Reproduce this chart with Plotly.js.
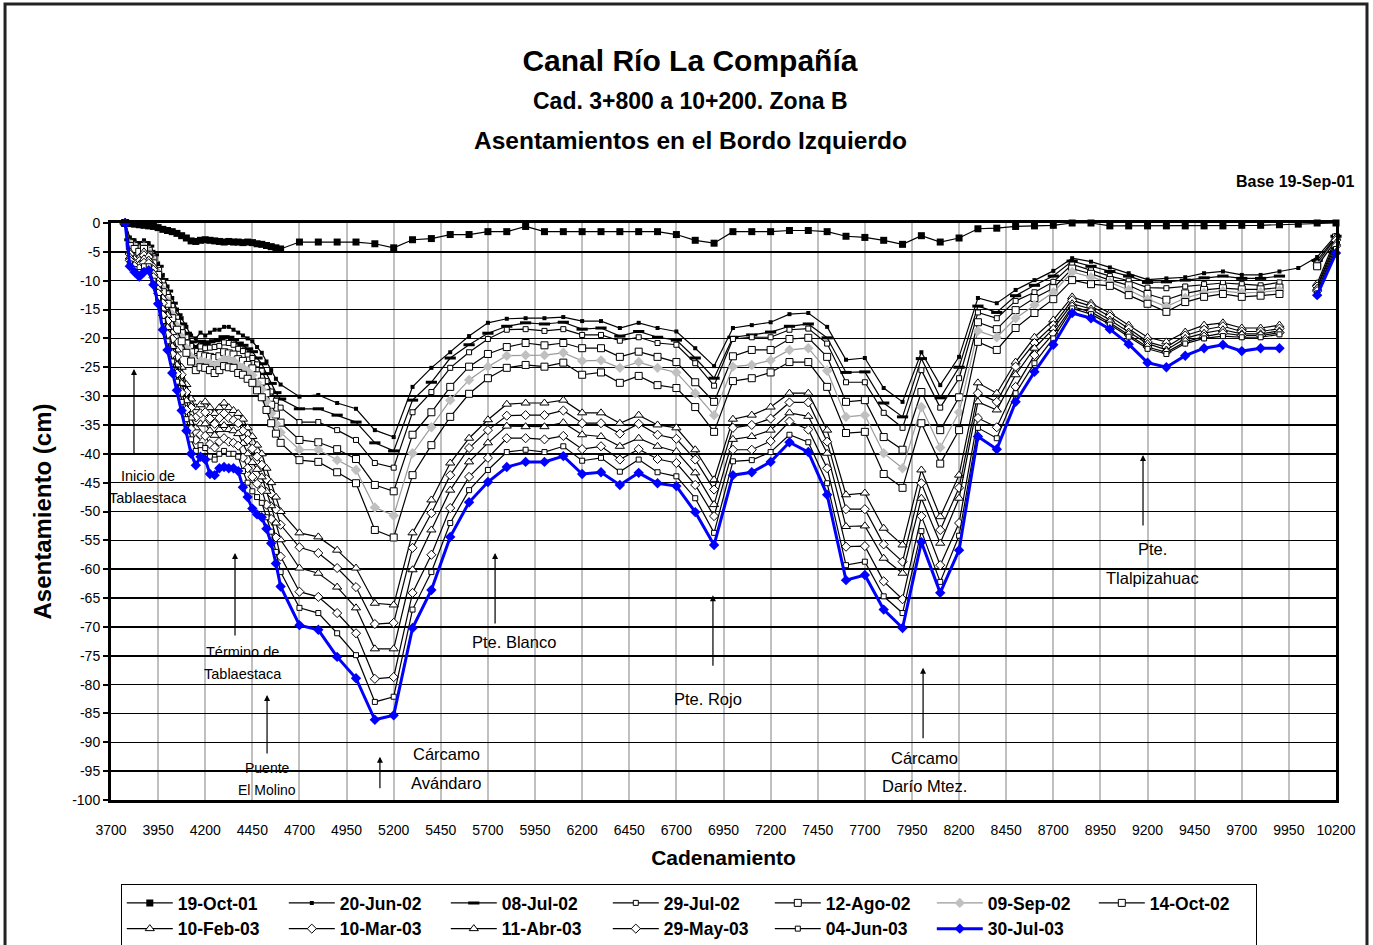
<!DOCTYPE html>
<html><head><meta charset="utf-8">
<script src="https://cdn.plot.ly/plotly-3.0.1.min.js"></script>
<style>html,body{margin:0;padding:0;background:#fff;}#chart{width:1373px;height:945px;}</style>
</head><body><div id="chart"></div>
<script>
// ---------- DATA ----------
const cadenamiento = [3775,3800,3825,3850,3875,3900,3925,3950,3975,4000,4025,4050,4075,4100,4125,4150,4175,4200,4225,4250,4275,4300,4325,4350,4375,4400,4425,4450,4475,4500,4525,4550,4575,4600,
 4700,4800,4900,5000,5100,5200,5300,5400,5500,5600,5700,5800,5900,6000,6100,6200,6300,6400,6500,6600,6700,6800,6900,7000,7100,7200,7300,7400,7500,7600,7700,7800,7900,8000,8100,8200,8300,8400,8500,8600,8700,8800,8900,9000,9100,9200,9300,9400,9500,9600,9700,9800,9900,
 10000,10100,10200];

const s19Oct01 = [0,-0.1,-0.2,-0.3,-0.4,-0.5,-0.6,-0.8,-1.1,-1.3,-1.5,-1.8,-2.2,-2.6,-3.1,-3.2,-3.0,-2.9,-3.0,-3.1,-3.2,-3.3,-3.2,-3.3,-3.3,-3.4,-3.3,-3.4,-3.6,-3.7,-3.9,-4.1,-4.3,-4.5,
 -3.3,-3.3,-3.3,-3.3,-3.6,-4.3, -2.9,-2.7,-2,-2,-1.5,-1.5, -0.6,-1.5,-1.5,-1.5,-1.5,-1.5, -1.5,-1.5,-2,-3,-3.5,-1.5, -1.5,-1.5,-1.3,-1.3,-1.5,-2.3, -2.5,-3,-3.7,-2.2,-3.3,-2.6, -1,-0.9,-0.6,-0.5,-0.4,0, 0,-0.5,-0.5,-0.5,-0.5,-0.5, -0.5,-0.5,-0.4,-0.4,-0.3,
 -0.2,0,0];

const s20Jun02 = [0,-2.5,-3,-3.5,-3,-3.5,-5,-7,-9,-11,-13,-15,-16.5,-18,-19.5,-20,-19,-19.5,-19,-18.5,-18.5,-18,-18,-18.5,-19,-19.5,-20,-20.5,-21.5,-22.5,-24,-25.5,-27,-28,
 -30.1,-29.8,-31.2,-32.2,-35.9,-37.1, -28.4,-25.1,-22.4,-19.6,-17.3,-16.6, -16.5,-16.5,-16.3,-17,-17,-18.2, -17.3,-18.2,-18.8,-21.7,-24.8,-18.2, -17.7,-17.2,-15.8,-15.6,-18,-23.7, -23.4,-28.6,-31,-22.4,-28.1,-23.2, -13,-13.9,-11.6,-9.9,-8.3,-6.1, -6.7,-7.7,-8.7,-9.8,-9.6,-9.4, -8.7,-8.4,-9,-9,-8.4,
 -7.8,-5.9,-2.1];

const s08Jul02 = [0,-2.9,-3.4,-3.9,-3.4,-4,-5.5,-7.5,-9.8,-11.8,-13.9,-15.9,-17.5,-19.1,-20.6,-21.4,-20.5,-20.9,-20.6,-20.4,-20.3,-19.7,-19.8,-20.2,-20.8,-21.2,-21.8,-22.3,-23.4,-24.4,-26.1,-27.8,-29.4,-30.5,
 -32.2,-32.2,-33.3,-34.5,-38.1,-39.5, -30.7,-27.6,-23.4,-21.1,-19.1,-17.9, -17.3,-17.5,-17.2,-18.4,-18.2,-19.6, -18.8,-19.8,-20.3,-23.4,-26.9,-19.8, -19.4,-18.9,-17.9,-17.5,-19.9,-25.9, -25.8,-31.2,-33.6,-23.5,-30.3,-25, -14.4,-15.5,-12.6,-10.8,-9.2,-6.6, -7.5,-8.4,-9.2,-10.3,-10.2,-9.9, -9.5,-9.2,-9.6,-9.6,-9.2,
 null,-6.5,-2.3];

const s29Jul02 = [0,-3.1,-3.6,-4.1,-3.6,-4.3,-5.8,-7.8,-10.2,-12.2,-14.4,-16.4,-18.1,-19.8,-21.3,-22.2,-21.4,-21.7,-21.6,-21.5,-21.3,-20.7,-20.8,-21.1,-21.8,-22.2,-22.8,-23.4,-24.5,-25.6,-27.4,-29.2,-30.8,-32,
 -34.5,-34.5,-35.9,-37.6,-41.6,-42.4, -32.8,-29.3,-25.1,-22.4,-20.1,-18.5, -18.4,-18.7,-18.4,-19.4,-19.4,-20.4, -19.8,-20.8,-21.1,-24.3,-28.2,-20.1, -19.8,-19.8,-18.5,-18.3,-20.9,-27.6, -27.6,-32.9,-35.5,-25.5,-32,-26.9, -15.5,-16.5,-13.5,-12,-10.2,-7.2, -8.2,-9.2,-10,-11.2,-11.3,-11, -10.6,-10.4,-10.6,-10.8,-10.3,
 null,-7,-2.5];

const s12Ago02 = [0,-3.5,-4,-4.5,-4,-4.8,-6.3,-8.3,-11,-13,-15.3,-17.3,-19.1,-20.9,-22.4,-23.6,-22.9,-23.1,-23.2,-23.4,-23.1,-22.4,-22.6,-22.8,-23.6,-23.9,-24.6,-25.2,-26.4,-27.5,-29.5,-31.5,-33.2,-34.6,
 -37.6,-38,-39.2,-40.9,-45.4,-46.5, -36.7,-32.8,-28.4,-24.9,-22.7,-21.5, -20.8,-21.2,-20.8,-21.7,-21.7,-23.2, -22.3,-23.2,-24.1,-27.6,-31,-23.1, -22,-22,-20.1,-19.9,-23.2,-31, -30.7,-37.1,-39.3,-29.3,-35.9,-30.2, -17.2,-18.4,-15.1,-13,-11.3,-7.9, -8.8,-9.9,-10.8,-12.3,-13.3,-12.2, -11.6,-11.3,-11.5,-11.5,-11.2,
 null,-7.3,-2.5];

const s09Sep02 = [0,-3.7,-4.2,-4.7,-4.2,-5.1,-6.6,-8.6,-11.5,-13.5,-15.9,-17.9,-19.8,-21.7,-23.2,-24.5,-23.9,-24.1,-24.3,-24.7,-24.2,-23.6,-23.7,-23.9,-24.7,-25.1,-25.7,-26.4,-27.7,-28.8,-30.9,-33,-34.8,-36.3,
 -39.3,-39.3,-41.1,-42.8,-49.3,-50.7, -39.9,-35.4,-30.7,-27.2,-24.9,-23, -22.9,-22.9,-22.5,-23.9,-23.8,-25.1, -24.1,-25.1,-25.9,-29.5,-33.3,-24.9, -24.6,-23.8,-22,-21.7,-25.6,-33.6, -33.3,-39.9,-42.5,-31.9,-38.9,-32.8, -18.7,-19.8,-16.5,-14.2,-12,-8.5, -9.4,-10.3,-11.6,-13.2,-14.5,-13, -12.1,-11.8,-12.1,-12,-11.7,
 null,-7.3,-2.8];

const s14Oct02 = [0,-4,-4.5,-5,-4.5,-5.5,-7,-9,-12,-14,-16.5,-18.5,-20.5,-22.5,-24,-25.5,-25,-25.1,-25.5,-26,-25.5,-24.8,-25,-25.1,-26,-26.3,-27,-27.7,-29,-30.2,-32.4,-34.7,-36.5,-38.1,
 -41.1,-41.4,-43.2,-45.1,-53.2,-54.5, -43.7,-38.5,-33.6,-29.6,-26.9,-25.1, -24.6,-24.9,-24.2,-26.3,-25.9,-27.7, -26.5,-28.1,-28.6,-31.9,-36.2,-27.4, -26.9,-25.9,-24.1,-24.1,-28.4,-36.4, -36.2,-43.5,-45.9,-34.7,-41.7,-35.9, -20.6,-22,-18.2,-15.6,-13.2,-9.9, -10.6,-10.9,-12.5,-14,-15.4,-13.7, -12.8,-12.3,-12.8,-12.6,-12.3,
 null,-7.5,-3];

const s10Feb03 = [0,-5,-6,-6,-5,-5.5,-7.5,-10,-13,-16,-19,-22,-25,-28,-30.5,-32,-31.5,-31,-32,-33,-32,-31.2,-32,-32.5,-33,-34,-35.5,-37,-38.5,-40,-42.5,-45,-47.5,-50,
 -53.7,-54.4,-56.7,-59.8,-65.9,-66.2, -53.7,-48,-41.6,-37.3,-34.1,-31.4, -31.2,-31.2,-30.7,-32.9,-32.9,-34.7, -33.3,-35,-35.5,-39.3,-44.5,-34, -33.3,-31.9,-29.5,-29.5,-35.9,-47.1, -46.8,-52.9,-55.8,-42.8,-50.9,-43.7, -27.7,-29.5,-24.1,-19.8,-16.8,-12.8, -13.9,-15.6,-17.7,-19.8,-20.6,-18.9, -17.7,-17.3,-18.2,-18.2,-17.7,
 null,-10.5,-2.5];

const s10Mar03 = [0,-5.4,-6.4,-6.6,-5.6,-5.9,-8.1,-10.7,-13.9,-17,-20.1,-23.2,-26.3,-29.3,-32,-33.7,-33,-32.8,-33.9,-34.8,-33.8,-33,-33.8,-34.2,-34.7,-36,-37.6,-39.1,-40.5,-41.9,-44.4,-46.9,-49.6,-52.3,
 -56.2,-57.2,-59.8,-63.1,-69.5,-69.3, -56.3,-50.3,-43.7,-39,-35.9,-33.4, -33.3,-33.3,-32.5,-34.7,-34.7,-36.5, -34.8,-36.7,-37.4,-41,-46.2,-35.5, -35,-33.9,-31.1,-31.1,-37.9,-49.6, -49.6,-55.7,-58.7,-45.1,-53.2,-45.9, -29.5,-31,-24.9,-20.8,-17.7,-13.4, -14.4,-16.2,-18.3,-20.6,-21.5,-19.5, -18.5,-17.9,-18.8,-18.8,-18.3,
 null,-11,-3];

const s11Abr03 = [0,-5.9,-6.9,-7.2,-6.2,-6.4,-8.7,-11.4,-14.9,-18.1,-21.4,-24.6,-27.8,-30.8,-33.8,-35.5,-34.8,-34.8,-36,-36.8,-35.8,-35.1,-35.8,-36,-36.5,-38.2,-40,-41.5,-42.7,-44,-46.5,-49,-52,-54.9,
 -59.8,-60.7,-63.1,-66.7,-73.8,-73.8, -60.1,-53.2,-46.3,-41.4,-38.1,-35.2, -35.3,-35.3,-34.6,-36.7,-37,-38.7, -37.3,-38.7,-39.6,-43.3,-48.8,-37.5, -37,-35.9,-32.9,-33.5,-39.9,-52.6, -52.5,-58.1,-60.7,-47.7,-55.5,-47.7, -31,-32.4,-26.3,-21.7,-18.3,-14, -14.9,-16.8,-18.9,-20.9,-22,-20, -19.1,-18.5,-19.2,-19.2,-18.7,
 null,-11.3,-3.5];

const s29May03 = [0,-6.5,-7.5,-7.9,-6.9,-7,-9.4,-12.2,-16,-19.3,-22.7,-26.1,-29.4,-32.4,-35.7,-37.6,-36.7,-36.9,-38.3,-38.9,-37.9,-37.3,-37.9,-38.1,-38.6,-40.7,-42.5,-44,-45.2,-46.3,-48.8,-51.3,-54.5,-57.8,
 -63.9,-64.8,-67.6,-71.1,-79,-78.7, -64.1,-57.5,-49.4,-44,-40.7,-37.3, -37.3,-37.5,-36.9,-39.2,-38.7,-41, -39.2,-40.9,-41.6,-45.4,-50.8,-39.3, -39.3,-37.8,-34.4,-35.8,-42.5,-56.1, -56,-62.1,-65.2,-50.8,-59.3,-52, -33.8,-35.4,-28.4,-22.9,-19.2,-14.5, -15.4,-17.3,-19.4,-21.5,-22.4,-20.6, -19.7,-19.1,-19.5,-19.5,-19,
 null,-11.8,-4];

const s04Jun03 = [0,-7,-8,-8.5,-7.5,-7.5,-10,-13,-17,-20.5,-24,-27.5,-31,-34,-37.5,-39.5,-38.5,-39,-40.5,-41,-40,-39.5,-40,-40,-40.5,-43,-45,-46.5,-47.5,-48.5,-51,-53.5,-57,-60.5,
 -66.7,-67.6,-71.1,-74.9,-83,-82.1, -67,-60.5,-52,-46.3,-42.8,-39.7, -39.3,-39.7,-38.7,-41.2,-40.7,-43.1, -41,-43.2,-43.9,-47.7,-53.7,-41.3, -41.1,-39.7,-36.7,-38,-45.1,-59.3, -58.7,-64.7,-67.6,-53.4,-62.2,-54.2, -35.5,-37.3,-29.5,-24.3,-20,-14.8, -15.8,-17.6,-19.7,-21.8,-22.7,-20.9, -20,-19.6,-19.8,-19.8,-19.3,
 null,-12.2,-4.5];

const s30Jul03 = [0,-7.5,-8.5,-9.3,-8.5,-8.2,-10.7,-14,-18.5,-22,-26,-29,-32.5,-36,-40,-42,-40.5,-41,-43.5,-43.7,-42.5,-42.3,-42.5,-42.5,-43,-45.8,-47.5,-49.5,-50.5,-51,-53,-55.5,-59,-63,
 -69.7,-70.5,-75.2,-78.9,-86.1,-85.3, -70.2,-63.6,-54.4,-48.4,-44.9,-42.3, -41.4,-41.4,-40.4,-43.5,-43.2,-45.4, -43.3,-45.1,-45.6,-50.1,-55.8,-43.7, -43.2,-41.4,-38,-39.7,-47.1,-61.9, -61,-67,-70.2,-55.3,-64.1,-56.7, -37,-39.2,-31,-25.8,-21.1,-15.6, -16.5,-18.4,-21,-24.2,-25,-23, -21.7,-21.1,-22.2,-21.7,-21.7,
 null,-12.5,-5.2];

const seriesNames = ['19-Oct-01','20-Jun-02','08-Jul-02','29-Jul-02','12-Ago-02','09-Sep-02','14-Oct-02','10-Feb-03','10-Mar-03','11-Abr-03','29-May-03','04-Jun-03','30-Jul-03'];
const seriesValues = [s19Oct01,s20Jun02,s08Jul02,s29Jul02,s12Ago02,s09Sep02,s14Oct02,s10Feb03,s10Mar03,s11Abr03,s29May03,s04Jun03,s30Jul03];

const xTickVals = [3700,3950,4200,4450,4700,4950,5200,5450,5700,5950,6200,6450,6700,6950,7200,7450,7700,7950,8200,8450,8700,8950,9200,9450,9700,9950,10200];
const xTickText = ['3700','3950','4200','4450','4700','4950','5200','5450','5700','5950','6200','6450','6700','6950','7200','7450','7700','7950','8200','8450','8700','8950','9200','9450','9700','9950','10200'];
const yTickVals = [0,-5,-10,-15,-20,-25,-30,-35,-40,-45,-50,-55,-60,-65,-70,-75,-80,-85,-90,-95,-100];
const yTickText = ['0','-5','-10','-15','-20','-25','-30','-35','-40','-45','-50','-55','-60','-65','-70','-75','-80','-85','-90','-95','-100'];

// ---------- STYLE ----------
const SANS = '"Liberation Sans", Arial, sans-serif';
const styles = [
  {sym:'square', size:7, fill:'black', lc:'black', lw:1.2, mlw:0},
  {sym:'square', size:4, fill:'black', lc:'black', lw:1.2, mlw:0},
  {sym:'line-ew', size:8, fill:'black', lc:'black', lw:1.2, mlw:3},
  {sym:'square', size:5, fill:'white', lc:'black', lw:1.2, mlw:1},
  {sym:'square', size:7, fill:'white', lc:'black', lw:1.2, mlw:1},
  {sym:'diamond', size:8, fill:'#c0c0c0', lc:'#9a9a9a', lw:1.2, mlw:0},
  {sym:'square', size:7, fill:'white', lc:'black', lw:1.2, mlw:1},
  {sym:'triangle-up', size:8, fill:'white', lc:'black', lw:1.2, mlw:1},
  {sym:'diamond', size:7, fill:'white', lc:'black', lw:1.2, mlw:1},
  {sym:'triangle-up', size:8, fill:'white', lc:'black', lw:1.2, mlw:1},
  {sym:'diamond', size:7, fill:'white', lc:'black', lw:1.2, mlw:1},
  {sym:'square', size:5, fill:'white', lc:'black', lw:1.2, mlw:1},
  {sym:'diamond', size:8, fill:'#0000ff', lc:'#0000ff', lw:3, mlw:0}
];

const traces = seriesNames.map((nm, i) => {
  const st = styles[i];
  return {
    type:'scatter', mode:'lines+markers', name:nm,
    x: cadenamiento, y: seriesValues[i],
    cliponaxis:false, connectgaps:false,
    line:{color:st.lc, width:st.lw},
    marker:{symbol:st.sym, size:st.size, color:st.fill,
            line:{color: st.sym==='line-ew' ? 'black' : (st.mlw ? 'black' : st.fill), width: st.mlw}}
  };
});

const arrows = [
  {x:3822, y:-25.3, ay:86},
  {x:4358, y:-57.2, ay:84},
  {x:4528, y:-81.8, ay:60},
  {x:5127, y:-92.5, ay:33},
  {x:5738, y:-57.2, ay:72},
  {x:6894, y:-64.5, ay:72},
  {x:8009, y:-77.1, ay:72},
  {x:9176, y:-40.2, ay:72}
];
const labels = [
  {t:'Inicio de', x:3896, y:-43.9, s:14.5},
  {t:'Tablaestaca', x:3896, y:-47.6, s:14.5},
  {t:'Término de', x:4400, y:-74.4, s:14.5},
  {t:'Tablaestaca', x:4400, y:-78.2, s:14.5},
  {t:'Puente', x:4528, y:-94.5, s:14},
  {t:'El Molino', x:4528, y:-98.3, s:14},
  {t:'Cárcamo', x:5478, y:-92.0, s:16.5},
  {t:'Avándaro', x:5478, y:-97.0, s:16.5},
  {t:'Pte. Blanco', x:5838, y:-72.6, s:16.5},
  {t:'Pte. Rojo', x:6868, y:-82.5, s:16.5},
  {t:'Cárcamo', x:8014, y:-92.7, s:16.5},
  {t:'Darío Mtez.', x:8014, y:-97.6, s:16.5},
  {t:'Pte.', x:9224, y:-56.5, s:16.5},
  {t:'Tlalpizahuac', x:9224, y:-61.5, s:16.5}
];

const annotations = [];
arrows.forEach(a => annotations.push({x:a.x, y:a.y, xref:'x', yref:'y', text:'', showarrow:true,
  arrowhead:2, arrowsize:1, arrowwidth:1.2, arrowcolor:'black', ax:0, ay:a.ay, standoff:0}));
labels.forEach(l => annotations.push({x:l.x, y:l.y, xref:'x', yref:'y', text:l.t, showarrow:false,
  font:{family:SANS, size:l.s, color:'black'}, xanchor:'center', yanchor:'middle'}));
annotations.push({text:'<b>Cad. 3+800 a 10+200. Zona B</b>', xref:'paper', yref:'paper', x:0.4727, y:1.2114,
  showarrow:false, xanchor:'center', yanchor:'middle', font:{family:SANS, size:23, color:'black'}});
annotations.push({text:'<b>Asentamientos en el Bordo Izquierdo</b>', xref:'paper', yref:'paper', x:0.4727, y:1.1438,
  showarrow:false, xanchor:'center', yanchor:'middle', font:{family:SANS, size:24.5, color:'black'}});
annotations.push({text:'<b>Base 19-Sep-01</b>', xref:'paper', yref:'paper', x:1.0163, y:1.0711,
  showarrow:false, xanchor:'right', yanchor:'middle', font:{family:SANS, size:16, color:'black'}});

const layout = {
  width:1373, height:945,
  margin:{l:111, r:37, t:223, b:145, pad:0, autoexpand:false},
  paper_bgcolor:'white', plot_bgcolor:'white',
  showlegend:true,
  title:{text:'<b>Canal Río La Compañía</b>', x:0.5025, xref:'container', y:0.9365, yref:'container',
         xanchor:'center', yanchor:'middle', font:{family:SANS, size:30, color:'black'}},
  xaxis:{range:[3700,10200], tickmode:'array', tickvals:xTickVals, ticktext:xTickText,
         showgrid:true, gridcolor:'#c0c0c0', gridwidth:2, zeroline:false,
         showline:true, linecolor:'black', linewidth:3, mirror:true,
         ticks:'', ticklabelstandoff:15,
         tickfont:{family:SANS, size:14, color:'black'},
         title:{text:'<b>Cadenamiento</b>', standoff:14, font:{family:SANS, size:21, color:'black'}}},
  yaxis:{range:[-100,0], tickmode:'array', tickvals:yTickVals, ticktext:yTickText,
         showgrid:true, gridcolor:'black', gridwidth:1.5, zeroline:false,
         showline:true, linecolor:'black', linewidth:3, mirror:true,
         ticks:'outside', ticklen:5, tickwidth:2, tickcolor:'black',
         tickfont:{family:SANS, size:14, color:'black'},
         title:{text:'<b>Asentamiento (cm)</b>', standoff:14, font:{family:SANS, size:24, color:'black'}}},
  legend:{orientation:'h', x:0.008, y:-0.1456, xanchor:'left', yanchor:'top',
          bgcolor:'white', bordercolor:'black', borderwidth:1,
          itemwidth:46, entrywidth:101, entrywidthmode:'pixels',
          font:{family:SANS, size:17.5, color:'black', weight:'bold'}, traceorder:'normal'},
  annotations: annotations,
  shapes:[{type:'rect', xref:'paper', yref:'paper', x0:-0.0865, x1:1.0253, y0:-0.27, y1:1.3795,
           line:{color:'#222', width:3}, fillcolor:'rgba(0,0,0,0)', layer:'above'}]
};

Plotly.newPlot('chart', traces, layout, {displayModeBar:false, staticPlot:true});
</script>
</body></html>
